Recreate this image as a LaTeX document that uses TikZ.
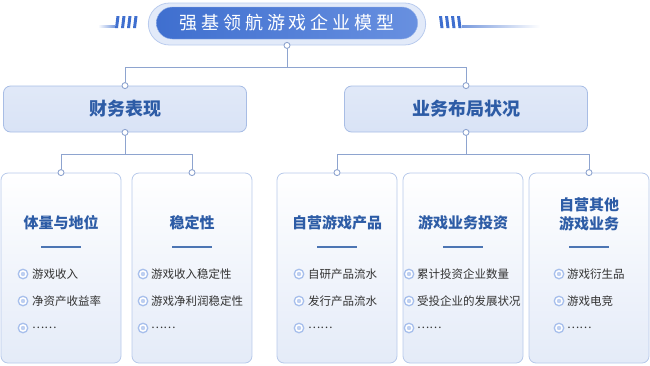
\documentclass[tikz,border=0pt]{standalone}
\usepackage{fontspec}
\setmainfont{Noto Sans CJK SC}
\usepackage{tikz}
\usetikzlibrary{positioning, calc, shapes.misc}

\definecolor{deepblue}{HTML}{2D5CA6}
\definecolor{pillblue}{HTML}{3F6FCF}
\definecolor{pilllight}{HTML}{6890E0}
\definecolor{ringfill}{HTML}{E2EAF9}
\definecolor{ringline}{HTML}{B9CBEE}
\definecolor{connline}{HTML}{8EA4CF}
\definecolor{boxline}{HTML}{A8BDE5}
\definecolor{boxfill}{HTML}{D9E3F6}
\definecolor{cardline}{HTML}{B7C9EA}
\definecolor{cardfoot}{HTML}{E4EBF8}
\definecolor{bulletc}{HTML}{A7BFEC}
\definecolor{itemtext}{HTML}{333333}

\begin{document}
\begin{tikzpicture}[x=1pt, y=-1pt,
  ring/.style={rounded rectangle, draw=ringline, fill=ringfill, line width=0.8pt,
    minimum width=284pt, minimum height=42pt},
  pill/.style={rounded rectangle, left color=pillblue, right color=pilllight,
    draw=pilllight!70!white, minimum width=268pt, minimum height=32pt,
    text=white, font=\fontsize{18}{20}\selectfont\addfontfeature{LetterSpace=22}},
  catbox/.style={rectangle, rounded corners=7pt, draw=boxline, line width=0.8pt,
    top color=boxfill!80!white, bottom color=boxfill, minimum width=243pt,
    minimum height=46pt, text=deepblue, font=\fontsize{18}{20}\selectfont\bfseries},
  card/.style={rectangle, rounded corners=7pt, draw=cardline, line width=0.8pt,
    top color=white, middle color=white, bottom color=cardfoot,
    minimum width=120pt, minimum height=190pt},
  cardtitle/.style={text=deepblue, align=center,
    font=\fontsize{15}{19}\selectfont\bfseries},
  item/.style={anchor=west, inner sep=0pt, text=itemtext,
    font=\fontsize{11.5}{13}\selectfont},
  bullet/.style={circle, draw=bulletc, line width=1.3pt, fill=white,
    minimum size=9.5pt, inner sep=0pt,
    path picture={\fill[bulletc!75!white] (path picture bounding box.center) circle (2.2pt);}},
  conn/.style={draw=connline, line width=1pt},
  dot/.style={circle, draw=connline, line width=0.9pt, fill=white,
    minimum size=6pt, inner sep=0pt},
]
\useasboundingbox (0,0) rectangle (650,365);

% title with side stripes
\fill[left color=white, right color=pillblue!70] (98,25) rectangle (115,27);
\foreach \x in {115,121,127,133}
  \fill[pillblue] (\x,28) -- (\x+1.5,16) -- (\x+4.5,16) -- (\x+3,28) -- cycle;
\foreach \x in {439,445,451,457}
  \fill[pillblue] (\x,16) -- (\x+1.5,28) -- (\x+4.5,28) -- (\x+3,16) -- cycle;
\fill[left color=pillblue!70, right color=white] (462,25) rectangle (540,27);

\node[ring] (ttlring) at (287,24) {};
\node[pill] (ttl) at (287,23) {强基领航游戏企业模型};

% second level
\node[catbox] (fin) at (125,109) {财务表现};
\node[catbox] (biz) at (466,109) {业务布局状况};

% cards
\node[card] (c1) at (61,268) {};
\node[card] (c2) at (192,268) {};
\node[card] (c3) at (337,268) {};
\node[card] (c4) at (463,268) {};
\node[card] (c5) at (589,268) {};

% connectors
\draw[conn] (ttlring.south) -- ++(0,22) -| (fin.north);
\draw[conn] (ttlring.south) -- ++(0,22) -| (biz.north);
\draw[conn] (fin.south) -- ++(0,22) -| (c1.north);
\draw[conn] (fin.south) -- ++(0,22) -| (c2.north);
\draw[conn] (biz.south) -- ++(0,22) -| (c3.north);
\draw[conn] (biz.south) -- ++(0,22) -| (c5.north);

\node[dot] at (ttlring.south) {};
\node[dot] at (fin.north) {};
\node[dot] at (fin.south) {};
\node[dot] at (biz.north) {};
\node[dot] at (biz.south) {};
\node[dot] at (c1.north) {};
\node[dot] at (c2.north) {};
\node[dot] at (c3.north) {};
\node[dot] at (c5.north) {};

% card titles and rules
\node[cardtitle] (t1) at (61,223) {体量与地位};
\node[cardtitle] (t2) at (192,223) {稳定性};
\node[cardtitle] (t3) at (337,223) {自营游戏产品};
\node[cardtitle] (t4) at (463,223) {游戏业务投资};
\node[cardtitle] (t5) at (589,214) {自营其他\\游戏业务};
\foreach \cx in {61,192,337,463,589}
  \draw[deepblue!85, line width=1.8pt] (\cx-20,247) -- (\cx+20,247);

% items
\node[bullet] (b11) at (23,274) {};
\node[item] (i11) at (32,274) {游戏收入};
\node[bullet] (b12) at (23,301) {};
\node[item] (i12) at (32,301) {净资产收益率};
\node[bullet] (b13) at (23,328) {};
\node[item] (i13) at (32,328) {……};

\node[bullet] (b21) at (143,274) {};
\node[item] (i21) at (151,274) {游戏收入稳定性};
\node[bullet] (b22) at (143,301) {};
\node[item] (i22) at (151,301) {游戏净利润稳定性};
\node[bullet] (b23) at (143,328) {};
\node[item] (i23) at (151,328) {……};

\node[bullet] (b31) at (299,274) {};
\node[item] (i31) at (308,274) {自研产品流水};
\node[bullet] (b32) at (299,301) {};
\node[item] (i32) at (308,301) {发行产品流水};
\node[bullet] (b33) at (299,328) {};
\node[item] (i33) at (308,328) {……};

\node[bullet] (b41) at (409,274) {};
\node[item] (i41) at (417,274) {累计投资企业数量};
\node[bullet] (b42) at (409,301) {};
\node[item] (i42) at (417,301) {受投企业的发展状况};
\node[bullet] (b43) at (409,328) {};
\node[item] (i43) at (417,328) {……};

\node[bullet] (b51) at (559,274) {};
\node[item] (i51) at (567,274) {游戏衍生品};
\node[bullet] (b52) at (559,301) {};
\node[item] (i52) at (567,301) {游戏电竞};
\node[bullet] (b53) at (559,328) {};
\node[item] (i53) at (567,328) {……};

\end{tikzpicture}
\end{document}
